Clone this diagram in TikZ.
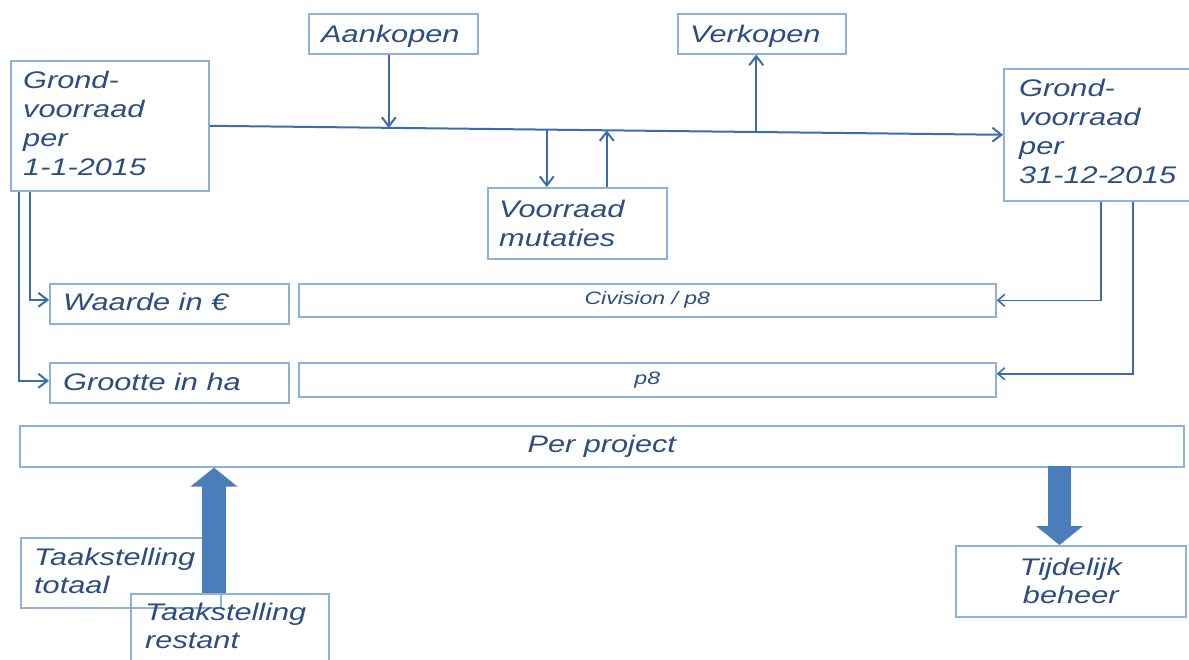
\documentclass[tikz,border=0pt]{standalone}
\usepackage{fontspec}
\newfontfamily\lblfont{Liberation Sans}[FakeStretch=1.28]
\usetikzlibrary{arrows.meta,calc}
\definecolor{lineblue}{HTML}{3B6CB0}
\definecolor{boxblue}{HTML}{8DB0DC}
\definecolor{txtblue}{HTML}{2C4D80}
\definecolor{fatblue}{HTML}{4A7EBB}
\tikzset{
  box/.style={draw=boxblue, line width=1.6pt, anchor=north west, inner sep=0pt, text=txtblue},
  lbl/.style={anchor=base west, inner sep=0pt, text=txtblue, align=left, font=\lblfont\itshape\fontsize{24}{29}\selectfont},
  small/.style={font=\lblfont\itshape\fontsize{18}{22}\selectfont},
  big/.style={font=\lblfont\itshape\fontsize{24}{29}\selectfont},
  conn/.style={draw=lineblue, line width=2pt, -{Straight Barb[length=9pt,width=14pt,line width=2pt]}},
  thin/.style={draw=lineblue, line width=1.6pt, -{Straight Barb[length=7pt,width=12pt,line width=1.6pt]}},
  fat/.style={draw=fatblue, -{Triangle[length=19pt,width=46pt]}}
}
\begin{document}
\begin{tikzpicture}[x=1pt,y=-1pt]
\useasboundingbox (0,0) rectangle (1189,659);
% boxes
\node[box, minimum width=198, minimum height=130] (gl) at (10,60) {};
\node[box, minimum width=169, minimum height=40] (aan) at (308,13) {};
\node[box, minimum width=168, minimum height=40] (ver) at (677,13) {};
\node[box, minimum width=200, minimum height=132] (gr) at (1003,68) {};
\node[box, minimum width=179, minimum height=71] (vm) at (487,187) {};
\node[box, minimum width=239, minimum height=40] (wa) at (49,283) {};
\node[box, minimum width=697, minimum height=33, small] (civ) at (298,283) {Civision / p8};
\node[box, minimum width=239, minimum height=40] (gh) at (49,362) {};
\node[box, minimum width=697, minimum height=34, small] (p8) at (298,362) {p8};
\node[box, minimum width=1164, minimum height=41, big] (pp) at (19,425) {Per project};
\node[box, minimum width=230, minimum height=71, big, align=center] (tb) at (955,545) {Tijdelijk\\[-1pt]beheer};
\node[box, minimum width=200, minimum height=70] (tt) at (20,537) {};
\node[box, minimum width=198, minimum height=80] (tr) at (130,593) {};
% fat arrows
\coordinate (ub) at (214,593);
\draw[fat, line width=24pt] (ub) -- (ub |- pp.south);
\coordinate (db) at (1059.5,466);
\draw[fat, line width=23pt] (db) -- (db |- tb.north);
% labels (anchored at the baseline of their last line)
\node[lbl] (glt) at (23,175) {Grond-\\voorraad\\per\\1-1-2015};
\node[lbl] (aant) at (321,42) {Aankopen};
\node[lbl] (vert) at (690,42) {Verkopen};
\node[lbl] (grt) at (1019,183) {Grond-\\voorraad\\per\\31-12-2015};
\node[lbl] (vmt) at (499,246) {Voorraad\\mutaties};
\node[lbl] (wat) at (63,310) {Waarde in €};
\node[lbl] (ght) at (63,390) {Grootte in ha};
\node[lbl] (ttt) at (34,593) {Taakstelling\\[-1pt]totaal};
\node[lbl] (trt) at (145,648) {Taakstelling\\[-1pt]restant};
% main flow line
\draw[conn] (gl.east) -- (gr.west)
  coordinate[pos=0.2314] (pA)
  coordinate[pos=0.425] (pD)
  coordinate[pos=0.5006] (pU)
  coordinate[pos=0.689] (pV);
\draw[conn] ([xshift=-4.5pt]aan.south) -- ([xshift=-4.5pt]aan.south |- pA);
\draw[conn] (pV) -- (pV |- ver.south);
\draw[conn] (pD) -- (pD |- vm.north);
\draw[conn] (pU |- vm.north) -- (pU);
% left connectors
\draw[conn] ([xshift=20pt]gl.south west) |- ([yshift=4pt]wa.west);
\draw[conn] ([xshift=9pt]gl.south west) |- ([yshift=2pt]gh.west);
% right connectors
\draw[thin] ([xshift=98pt]gr.south west) |- (civ.east);
\draw[thin] ([xshift=130pt]gr.south west) |- ([yshift=6pt]p8.east);
\end{tikzpicture}
\end{document}
